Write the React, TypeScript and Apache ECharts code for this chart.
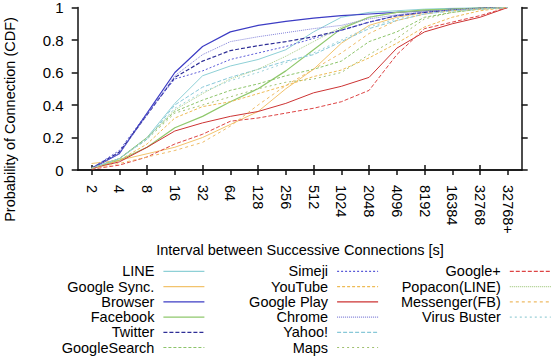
import React, { useEffect, useRef } from "react";
import * as echarts from "echarts";

const categories = ["2", "4", "8", "16", "32", "64", "128", "256", "512", "1024", "2048", "4096", "8192", "16384", "32768", "32768+"];

const LINE = [0.01, 0.07, 0.2, 0.41, 0.58, 0.64, 0.68, 0.74, 0.85, 0.94, 0.97, 0.98, 0.99, 0.995, 0.998, 1];
const GoogleSync = [0.04, 0.06, 0.1, 0.14, 0.2, 0.28, 0.36, 0.5, 0.62, 0.78, 0.89, 0.94, 0.97, 0.985, 0.995, 1];
const Browser = [0.01, 0.1, 0.35, 0.6, 0.76, 0.85, 0.89, 0.915, 0.935, 0.95, 0.96, 0.97, 0.98, 0.99, 0.995, 1];
const Facebook = [0.01, 0.06, 0.14, 0.26, 0.33, 0.42, 0.5, 0.61, 0.74, 0.87, 0.94, 0.97, 0.985, 0.99, 0.997, 1];
const Twitter = [0.01, 0.11, 0.34, 0.57, 0.67, 0.735, 0.765, 0.79, 0.82, 0.86, 0.91, 0.95, 0.97, 0.985, 0.995, 1];
const GoogleSearch = [0.01, 0.07, 0.2, 0.36, 0.43, 0.49, 0.53, 0.58, 0.62, 0.67, 0.79, 0.85, 0.94, 0.97, 0.99, 1];
const Simeji = [0.01, 0.12, 0.35, 0.56, 0.61, 0.68, 0.72, 0.76, 0.81, 0.86, 0.91, 0.95, 0.97, 0.985, 0.995, 1];
const YouTube = [0.01, 0.06, 0.16, 0.32, 0.39, 0.42, 0.47, 0.52, 0.575, 0.615, 0.69, 0.78, 0.88, 0.94, 0.98, 1];
const GooglePlay = [0.01, 0.05, 0.14, 0.24, 0.29, 0.33, 0.36, 0.41, 0.475, 0.515, 0.57, 0.75, 0.85, 0.9, 0.94, 1];
const Chrome = [0.01, 0.1, 0.34, 0.58, 0.71, 0.79, 0.82, 0.845, 0.87, 0.89, 0.93, 0.955, 0.975, 0.985, 0.995, 1];
const Yahoo = [0.01, 0.07, 0.19, 0.4, 0.51, 0.57, 0.62, 0.67, 0.71, 0.79, 0.87, 0.92, 0.96, 0.98, 0.99, 1];
const Maps = [0.01, 0.07, 0.19, 0.35, 0.4, 0.45, 0.5, 0.54, 0.56, 0.6, 0.71, 0.81, 0.93, 0.97, 0.99, 1];
const GooglePlus = [0.005, 0.03, 0.08, 0.16, 0.22, 0.3, 0.32, 0.35, 0.38, 0.42, 0.49, 0.71, 0.87, 0.91, 0.95, 1];
const Popacon = [0.01, 0.07, 0.2, 0.37, 0.47, 0.56, 0.62, 0.7, 0.79, 0.88, 0.94, 0.97, 0.98, 0.99, 0.995, 1];
const Messenger = [0.01, 0.04, 0.08, 0.12, 0.17, 0.27, 0.4, 0.52, 0.62, 0.72, 0.84, 0.92, 0.96, 0.98, 0.99, 1];
const VirusBuster = [0.01, 0.07, 0.19, 0.38, 0.48, 0.55, 0.6, 0.66, 0.72, 0.8, 0.88, 0.93, 0.96, 0.98, 0.99, 1];

const seriesList: { name: string; data: number[] }[] = [
  { name: "LINE", data: LINE },
  { name: "Google Sync.", data: GoogleSync },
  { name: "Browser", data: Browser },
  { name: "Facebook", data: Facebook },
  { name: "Twitter", data: Twitter },
  { name: "GoogleSearch", data: GoogleSearch },
  { name: "Simeji", data: Simeji },
  { name: "YouTube", data: YouTube },
  { name: "Google Play", data: GooglePlay },
  { name: "Chrome", data: Chrome },
  { name: "Yahoo!", data: Yahoo },
  { name: "Maps", data: Maps },
  { name: "Google+", data: GooglePlus },
  { name: "Popacon(LINE)", data: Popacon },
  { name: "Messenger(FB)", data: Messenger },
  { name: "Virus Buster", data: VirusBuster },
];

const styles: Record<string, { color: string; type: any; width: number }> = {
  "LINE": { color: "#8ed0d6", type: "solid", width: 1 },
  "Google Sync.": { color: "#f2c36d", type: "solid", width: 1 },
  "Browser": { color: "#3c3cc4", type: "solid", width: 1.2 },
  "Facebook": { color: "#8fc86c", type: "solid", width: 1.2 },
  "Twitter": { color: "#2e2e96", type: [4, 2], width: 1.2 },
  "GoogleSearch": { color: "#8cc46a", type: [3, 2], width: 1 },
  "Simeji": { color: "#5a5ad8", type: [2, 2], width: 1 },
  "YouTube": { color: "#eebb55", type: [3, 2], width: 1 },
  "Google Play": { color: "#cc3333", type: "solid", width: 1 },
  "Chrome": { color: "#8080d8", type: [1, 1], width: 1 },
  "Yahoo!": { color: "#88c8d8", type: [4, 2], width: 1 },
  "Maps": { color: "#a0c070", type: [2, 3], width: 1 },
  "Google+": { color: "#dd4444", type: [4, 2], width: 1 },
  "Popacon(LINE)": { color: "#a8cc88", type: [1, 1], width: 1 },
  "Messenger(FB)": { color: "#eebb66", type: [3, 3], width: 1 },
  "Virus Buster": { color: "#99d0d8", type: [2, 3], width: 1 },
};

const legendCols = [
  ["LINE", "Google Sync.", "Browser", "Facebook", "Twitter", "GoogleSearch"],
  ["Simeji", "YouTube", "Google Play", "Chrome", "Yahoo!", "Maps"],
  ["Google+", "Popacon(LINE)", "Messenger(FB)", "Virus Buster"],
];

const FONT = "'Liberation Sans', Arial, Helvetica, sans-serif";

export default function App() {
  const ref = useRef<HTMLDivElement>(null);
  useEffect(() => {
    if (!ref.current) return;
    const chart = echarts.init(ref.current, null, { renderer: "svg" });
    const axisLine = { show: true, lineStyle: { color: "#111", width: 1.5 } };
    const legendRights = [349, 175.3, 2.6];
    chart.setOption({
      animation: false,
      backgroundColor: "#fff",
      grid: { left: 77.7, right: 32.3, top: 5.3, bottom: 186, containLabel: false },
      xAxis: [
        {
          type: "category",
          data: categories,
          boundaryGap: true,
          position: "bottom",
          axisLine,
          axisTick: { show: true, alignWithLabel: true, length: 5, lineStyle: { color: "#111", width: 1.5 } },
          axisLabel: { rotate: -90, margin: 15, fontSize: 14.5, color: "#000", fontFamily: FONT, interval: 0 },
          splitLine: { show: false },
        },
        {
          type: "category",
          data: categories,
          boundaryGap: true,
          position: "top",
          axisLine,
          axisTick: { show: true, alignWithLabel: true, length: 5, lineStyle: { color: "#111", width: 1.5 } },
          axisLabel: { show: false },
          splitLine: { show: false },
        },
      ],
      yAxis: [
        {
          type: "value",
          min: 0,
          max: 1,
          interval: 0.2,
          position: "left",
          axisLine,
          axisTick: { show: true, length: 6, lineStyle: { color: "#111", width: 1.5 } },
          axisLabel: { margin: 14, fontSize: 15, color: "#000", fontFamily: FONT },
          splitLine: { show: false },
        },
        {
          type: "value",
          min: 0,
          max: 1,
          interval: 0.2,
          position: "right",
          axisLine,
          axisTick: { show: true, length: 6, lineStyle: { color: "#111", width: 1.5 } },
          axisLabel: { show: false },
          splitLine: { show: false },
        },
      ],
      legend: legendCols.map((col, i) => ({
        data: col,
        orient: "vertical",
        align: "right",
        right: legendRights[i],
        top: 263.7,
        padding: 0,
        itemGap: 0,
        itemWidth: 41,
        itemHeight: 2,
        selectedMode: false,
        itemStyle: { opacity: 0, borderWidth: 0 },
        lineStyle: { width: 1.2 },
        textStyle: { fontSize: 14.5, lineHeight: 15.24, color: "#000", fontFamily: FONT, padding: [0, 4, 0, 0] },
      })),
      graphic: [
        {
          type: "text",
          x: 10,
          y: 119.5,
          rotation: Math.PI / 2,
          style: {
            text: "Probability of Connection (CDF)",
            fontSize: 14.5,
            fontFamily: FONT,
            fill: "#000",
            align: "center",
            verticalAlign: "middle",
          },
        },
        {
          type: "text",
          x: 300,
          y: 250,
          style: {
            text: "Interval between Successive Connections [s]",
            fontSize: 14.5,
            fontFamily: FONT,
            fill: "#000",
            align: "center",
            verticalAlign: "middle",
          },
        },
      ],
      series: seriesList.map((s) => ({
        name: s.name,
        type: "line",
        data: s.data,
        xAxisIndex: 0,
        yAxisIndex: 0,
        symbol: "none",
        lineStyle: { color: styles[s.name].color, type: styles[s.name].type, width: styles[s.name].width },
        itemStyle: { color: styles[s.name].color },
      })),
    });
    return () => chart.dispose();
  }, []);
  return <div ref={ref} style={{ width: 554, height: 356, position: "absolute", left: 0, top: 0 }} />;
}
